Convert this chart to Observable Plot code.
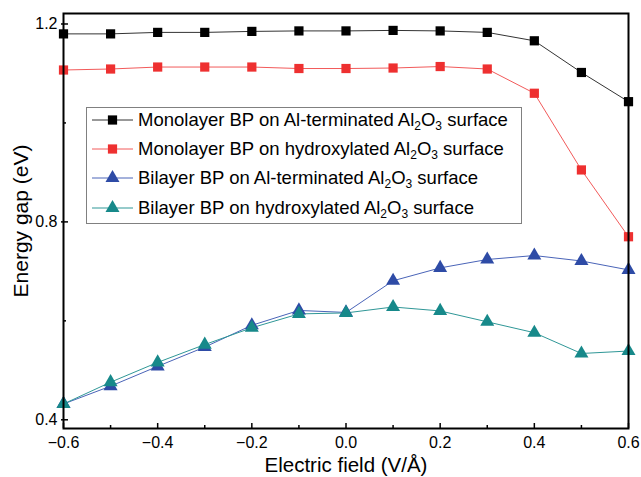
<!DOCTYPE html>
<html><head><meta charset="utf-8">
<script src="https://cdn.jsdelivr.net/npm/d3@7"></script>
<script src="https://cdn.jsdelivr.net/npm/@observablehq/plot@0.6"></script>
<style>
body{margin:0;background:#fff;}
#wrap{position:relative;width:641px;height:477px;font-family:"Liberation Sans",Arial,sans-serif;}
#legend{position:absolute;left:86px;top:107px;width:436px;height:117px;border:1px solid #808080;background:#fff;box-sizing:border-box;}
.row{position:absolute;left:0;height:28px;display:flex;align-items:center;font-size:18.5px;color:#000;white-space:nowrap;}
.row svg{margin-left:5px;margin-right:5px;}
sub{font-size:12px;vertical-align:-4px;line-height:0;}
</style>
</head><body>
<div id="wrap"><div id="chart"></div><div id="legend"></div></div>
<script>
// Data
const fields = [-0.6, -0.5, -0.4, -0.3, -0.2, -0.1, 0.0, 0.1, 0.2, 0.3, 0.4, 0.5, 0.6];
const monoAl = [1.180, 1.180, 1.183, 1.183, 1.185, 1.186, 1.186, 1.187, 1.186, 1.183, 1.166, 1.102, 1.043];
const monoOH = [1.107, 1.109, 1.113, 1.113, 1.113, 1.110, 1.110, 1.111, 1.114, 1.109, 1.060, 0.905, 0.770];
const biAl   = [0.432, 0.468, 0.508, 0.547, 0.591, 0.621, 0.617, 0.681, 0.707, 0.724, 0.732, 0.721, 0.703];
const biOH   = [0.432, 0.476, 0.516, 0.552, 0.586, 0.614, 0.616, 0.628, 0.620, 0.598, 0.576, 0.534, 0.539];

const seriesNames = [
  "Monolayer BP on Al-terminated Al<sub>2</sub>O<sub>3</sub> surface",
  "Monolayer BP on hydroxylated Al<sub>2</sub>O<sub>3</sub> surface",
  "Bilayer BP on Al-terminated Al<sub>2</sub>O<sub>3</sub> surface",
  "Bilayer BP on hydroxylated Al<sub>2</sub>O<sub>3</sub> surface"
];
const seriesValues = [monoAl, monoOH, biAl, biOH];
const lineColors = ["#333333", "#f25a5a", "#4a64b8", "#2f9797"];
const markColors = ["#000000", "#ee3030", "#2e4ba6", "#17898a"];
const symbols = ["square", "square", "triangle", "triangle"];

const xMajor = [-0.6, -0.4, -0.2, 0.0, 0.2, 0.4, 0.6];
const xMinor = [-0.5, -0.3, -0.1, 0.1, 0.3, 0.5];
const yMajor = [0.4, 0.8, 1.2];
const yMinor = [0.6, 1.0];
const xTitle = "Electric field (V/Å)";
const yTitle = "Energy gap (eV)";

const W = 641, H = 477, mL = 63, mR = 13, mT = 13, mB = 49;
const innerW = W - mL - mR, innerH = H - mT - mB;

const marks = [];
seriesValues.forEach((vals, k) => {
  const d = fields.map((x, i) => ({x, y: vals[i]}));
  marks.push(Plot.line(d, {x: "x", y: "y", stroke: lineColors[k], strokeWidth: 1}));
});
seriesValues.forEach((vals, k) => {
  const d = fields.map((x, i) => ({x, y: vals[i]}));
  marks.push(Plot.dot(d, {x: "x", y: "y", symbol: symbols[k], fill: markColors[k], stroke: "none", r: 5.2}));
});

const chart = Plot.plot({
  width: W, height: H,
  marginLeft: mL, marginRight: mR, marginTop: mT, marginBottom: mB,
  style: {fontFamily: "'Liberation Sans', Arial, sans-serif", fontSize: "16px", color: "#000", background: "#fff"},
  x: {domain: [-0.6, 0.6]},
  y: {domain: [0.3824, 1.2212]},
  marks: [
    ...marks,
    Plot.tickX(xMajor, {x: d => d, insetTop: innerH - 5, stroke: "#000", strokeWidth: 1.5}),
    Plot.tickX(xMinor, {x: d => d, insetTop: innerH - 3, stroke: "#000", strokeWidth: 1.5}),
    Plot.tickY(yMajor, {y: d => d, insetRight: innerW - 5, insetLeft: -2, stroke: "#000", strokeWidth: 1.5}),
    Plot.tickY(yMinor, {y: d => d, insetRight: innerW - 3, stroke: "#000", strokeWidth: 1.5}),
    Plot.axisX(xMajor, {tickSize: 0, tickPadding: 8, tickFormat: d3.format(".1f"), label: null, fontSize: 16}),
    Plot.axisY(yMajor, {tickSize: 0, tickPadding: 6, tickFormat: d3.format(".1f"), label: null, fontSize: 16}),
    Plot.frame({stroke: "#000", strokeWidth: 2}),
    Plot.text([xTitle], {frameAnchor: "bottom", dy: 37, fontSize: 20.5, text: d => d, textAnchor: "middle", lineAnchor: "middle"}),
    Plot.text([yTitle], {frameAnchor: "left", dx: -42, rotate: -90, fontSize: 21, text: d => d, textAnchor: "middle", lineAnchor: "middle"})
  ]
});
document.getElementById("chart").appendChild(chart);

// Legend
const legend = document.getElementById("legend");
const rowCenters = [12.5, 42, 71.3, 100.6];
seriesNames.forEach((name, k) => {
  const row = document.createElement("div");
  row.className = "row";
  row.style.top = (rowCenters[k] - 14 - 1) + "px";
  const sw = d3.create("svg").attr("width", 41).attr("height", 20);
  sw.append("line").attr("x1", 0).attr("x2", 41).attr("y1", 10).attr("y2", 10)
    .attr("stroke", lineColors[k]).attr("stroke-width", 1);
  sw.append("path").attr("transform", "translate(20.5,10)")
    .attr("d", d3.symbol(symbols[k] === "square" ? d3.symbolSquare : d3.symbolTriangle, Math.PI * 5.2 * 5.2)())
    .attr("fill", markColors[k]);
  row.appendChild(sw.node());
  const t = document.createElement("span");
  t.innerHTML = name;
  row.appendChild(t);
  legend.appendChild(row);
});
</script>
</body></html>
